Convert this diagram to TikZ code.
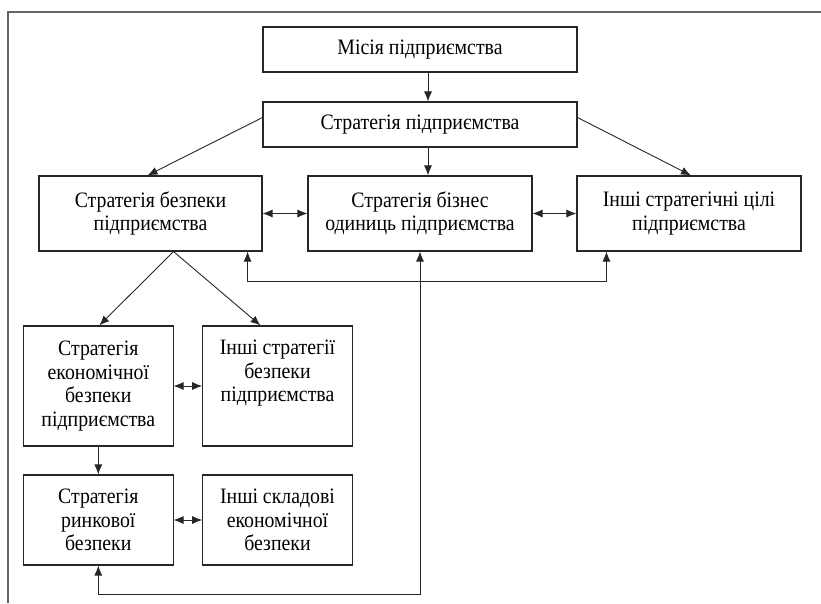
\documentclass[tikz,border=0pt]{standalone}
\usepackage{fontspec}
\setmainfont[FakeStretch=0.9]{Liberation Serif}
\usetikzlibrary{arrows.meta,calc}
\begin{document}
\begin{tikzpicture}[x=1pt,y=-1pt,
 box/.style={draw=black!85,line width=1.1pt,align=center,inner sep=0pt,font=\fontsize{22}{23.5}\selectfont},
 conn/.style={draw=black!85,line width=0.9pt},
 tip/.style={-{Latex[length=10pt,width=8pt]}},
 both/.style={{Latex[length=10pt,width=8pt]}-{Latex[length=10pt,width=8pt]}}]
\useasboundingbox (0,0) rectangle (821,603);
\draw[black!60, line width=1.3pt] (8,603) -- (8,12) -- (821,12);

\node[box,minimum width=314pt,minimum height=45pt] (mis) at (420,49.5) {Місія підприємства};
\node[box,minimum width=314pt,minimum height=45pt] (str) at (420,124.5) {Стратегія підприємства};
\node[box,minimum width=223pt,minimum height=75pt] (bez) at (150.5,213.5) {Стратегія безпеки\\підприємства};
\node[box,minimum width=224pt,minimum height=75pt] (biz) at (420,213.5) {Стратегія бізнес\\одиниць підприємства};
\node[box,minimum width=224pt,minimum height=75pt] (inc) at (689,213.5) {Інші стратегічні цілі\\підприємства};
\node[box,minimum width=149.5pt,minimum height=120pt] (eko) at (98.3,386) {Стратегія\\економічної\\безпеки\\підприємства};
\node[box,minimum width=149.5pt,minimum height=120pt] (isb) at (277.5,386) {Інші стратегії\\безпеки\\підприємства\\\strut};
\node[box,minimum width=149.5pt,minimum height=90pt] (rin) at (98.3,520) {Стратегія\\ринкової\\безпеки};
\node[box,minimum width=149.5pt,minimum height=90pt] (skl) at (277.5,520) {Інші складові\\економічної\\безпеки};

\draw[conn,tip] ($(mis.south)+(8,0)$) -- ($(str.north)+(8,0)$);
\draw[conn,tip] ($(str.south)+(8,0)$) -- ($(biz.north)+(8,0)$);
\draw[conn,tip] ($(str.west)+(0,-7)$) -- ($(bez.north)+(-3,0)$);
\draw[conn,tip] ($(str.east)+(0,-7)$) -- ($(inc.north)+(2,0)$);
\draw[conn,both] (bez.east) -- (biz.west);
\draw[conn,both] (biz.east) -- (inc.west);
\draw[conn,both] ($(bez.south east)+(-15,0)$) -- ++(0,29.5) -| ($(inc.south west)+(30,0)$);
\coordinate (fork) at ($(bez.south)+(23,0)$);
\draw[conn,tip] (fork) -- ($(eko.north)+(1,0)$);
\draw[conn,tip] (fork) -- ($(isb.north)+(-17,0)$);
\draw[conn,both] (eko.east) -- (isb.west);
\draw[conn,tip] (eko.south) -- (rin.north);
\draw[conn,both] (rin.east) -- (skl.west);
\draw[conn,both] (rin.south) -- ++(0,29) -| (biz.south);
\end{tikzpicture}
\end{document}
